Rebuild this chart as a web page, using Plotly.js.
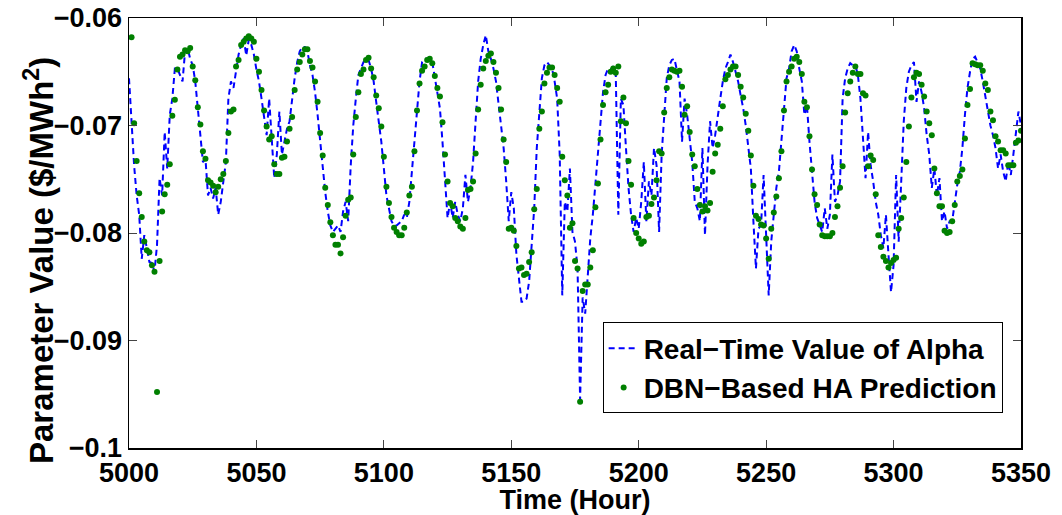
<!DOCTYPE html>
<html>
<head>
<meta charset="utf-8">
<script src="https://cdn.plot.ly/plotly-3.0.1.min.js"></script>
<style>
html,body{margin:0;padding:0;background:#fff;}
#chart{width:1062px;height:515px;}
</style>
</head>
<body>
<div id="chart"></div>
<script>
// Hourly real-time alpha values (x 1e-3 $/MWh^2), hours 5000..5350
const realStartHour = 5000;
const realAlpha = [
  -65.6,-70.0,-73.7,-76.5,-78.3,-82.4,-80.2,-81.4,-82.7,-82.8,
  -83.6,-81.1,-74.9,-76.5,-70.6,-74.0,-69.0,-67.5,-64.7,-64.7,
  -65.3,-65.9,-63.1,-62.8,-63.8,-64.4,-65.9,-68.4,-71.5,-73.4,
  -73.1,-76.5,-75.8,-76.8,-75.8,-78.3,-77.1,-75.2,-73.4,-67.5,
  -65.9,-66.5,-64.7,-63.4,-62.5,-61.9,-63.5,-62.0,-62.5,-63.4,
  -64.8,-65.9,-67.5,-69.0,-70.9,-67.5,-71.8,-74.9,-72.7,-68.7,
  -72.7,-71.5,-70.3,-69.6,-67.5,-65.6,-64.1,-63.1,-62.7,-62.7,
  -63.1,-64.4,-65.3,-66.9,-69.0,-71.5,-74.0,-76.2,-78.0,-79.3,
  -79.9,-79.6,-79.3,-79.9,-78.0,-77.1,-78.9,-73.7,-70.0,-67.5,
  -65.3,-64.7,-64.1,-63.9,-63.9,-64.7,-65.9,-67.8,-69.6,-71.5,
  -74.0,-76.5,-77.7,-78.9,-79.3,-79.3,-79.1,-78.9,-78.3,-78.6,
  -77.1,-74.3,-71.5,-68.4,-65.9,-64.1,-63.8,-63.8,-64.2,-64.1,
  -65.6,-66.9,-68.4,-71.5,-74.9,-78.6,-77.1,-78.6,-77.1,-78.3,
  -78.9,-77.7,-74.6,-77.1,-75.8,-73.4,-69.6,-65.9,-63.8,-62.5,
  -61.6,-63.1,-63.8,-64.7,-65.9,-67.8,-70.0,-72.1,-75.2,-78.9,
  -76.2,-77.7,-82.0,-84.5,-86.4,-86.4,-86.1,-84.5,-81.4,-77.7,
  -72.1,-69.0,-65.6,-64.4,-64.1,-64.4,-64.7,-65.9,-67.5,-72.7,
  -85.8,-77.1,-78.0,-74.0,-79.9,-80.8,-83.3,-95.5,-86.0,-87.5,
  -84.0,-80.5,-78.3,-75.5,-72.7,-70.0,-66.9,-65.3,-64.7,-64.8,
  -64.5,-65.3,-78.3,-67.5,-68.1,-72.1,-75.8,-78.3,-79.9,-78.6,
  -79.6,-77.1,-73.4,-78.9,-75.2,-76.5,-72.1,-73.7,-79.9,-72.7,
  -69.0,-65.6,-64.4,-63.9,-63.8,-65.0,-65.9,-71.5,-67.5,-69.0,
  -71.5,-73.4,-77.1,-77.7,-78.9,-72.1,-80.2,-73.7,-69.6,-72.1,
  -70.9,-69.0,-67.5,-65.9,-64.7,-64.1,-63.4,-64.1,-65.0,-65.9,
  -67.2,-68.4,-70.0,-71.8,-74.0,-78.9,-83.3,-79.6,-79.3,-74.6,
  -80.8,-85.8,-80.8,-78.3,-75.8,-74.3,-71.5,-68.1,-65.6,-64.7,
  -63.1,-62.5,-63.1,-64.7,-65.9,-69.0,-68.1,-71.5,-74.6,-77.1,
  -78.6,-79.3,-79.9,-77.7,-79.6,-78.3,-72.7,-77.1,-76.5,-75.2,
  -67.5,-65.6,-64.7,-64.2,-64.4,-64.4,-65.3,-67.5,-71.5,-74.9,
  -70.6,-73.7,-75.2,-77.1,-78.3,-80.2,-81.4,-78.3,-82.0,-85.5,
  -83.0,-74.6,-80.8,-75.2,-69.6,-66.5,-65.0,-64.4,-64.1,-67.8,
  -65.9,-66.9,-68.4,-70.9,-72.7,-75.8,-74.0,-76.5,-74.9,-78.9,
  -78.0,-79.6,-78.9,-78.9,-77.1,-75.5,-74.3,-72.1,-69.0,-66.5,
  -65.0,-63.8,-63.6,-64.1,-64.7,-65.9,-67.2,-68.7,-70.0,-70.9,
  -72.1,-74.0,-72.7,-74.3,-75.2,-73.4,-74.6,-72.7,-70.6,-68.7,
  -70.0
];

// Hourly DBN-based HA predictions (x 1e-3 $/MWh^2), hours 5001..5350
const predStartHour = 5001;
const dbnPrediction = [
  -61.8,-69.8,-73.3,-76.3,-78.5,-80.8,-81.6,-81.8,-83.0,-83.6,
  -94.8,-82.6,-78.0,-76.4,-75.5,-73.6,-69.1,-67.6,-64.8,-63.6,
  -63.4,-63.0,-63.1,-62.8,-64.5,-65.8,-68.3,-69.9,-72.4,-73.1,
  -75.1,-75.3,-75.6,-76.2,-75.7,-75.0,-74.5,-73.3,-70.7,-68.7,
  -68.5,-64.5,-63.9,-62.5,-62.2,-61.9,-61.7,-61.9,-62.2,-63.8,
  -65.0,-66.7,-68.6,-70.1,-71.3,-71.0,-73.6,-74.5,-74.5,-73.0,
  -72.9,-71.5,-70.3,-69.2,-66.7,-64.8,-64.1,-63.4,-62.9,-62.9,
  -64.0,-64.6,-65.9,-67.8,-70.7,-72.8,-75.8,-77.4,-79.0,-80.2,
  -81.1,-81.1,-81.9,-80.4,-78.4,-76.9,-76.7,-72.7,-69.2,-66.9,
  -65.2,-64.8,-63.9,-63.7,-64.7,-65.5,-67.2,-68.4,-70.1,-72.9,
  -75.7,-77.2,-78.5,-79.5,-79.9,-80.2,-80.2,-79.5,-78.1,-76.5,
  -75.7,-72.4,-68.6,-66.1,-64.9,-64.5,-63.9,-63.8,-64.2,-65.4,
  -66.5,-67.3,-69.7,-72.7,-75.2,-77.2,-77.5,-78.6,-78.9,-79.4,
  -79.6,-78.6,-76.0,-75.9,-75.2,-72.6,-68.5,-66.2,-64.7,-64.0,
  -63.5,-63.3,-64.1,-65.1,-66.5,-68.5,-71.3,-73.4,-79.6,-79.5,
  -79.8,-81.2,-83.3,-83.2,-83.9,-83.8,-82.7,-81.8,-77.8,-75.9,
  -70.3,-68.7,-66.1,-65.1,-64.6,-64.6,-65.3,-66.5,-67.8,-72.9,
  -75.1,-76.5,-79.5,-79.1,-82.6,-83.3,-95.7,-85.4,-84.8,-84.8,
  -83.2,-81.6,-77.6,-75.4,-71.3,-68.1,-66.9,-66.2,-65.0,-64.7,
  -65.1,-64.5,-69.6,-67.4,-69.8,-73.3,-75.5,-78.6,-80.0,-80.5,
  -81.0,-80.8,-78.5,-78.4,-77.3,-76.7,-75.1,-72.4,-72.6,-68.8,
  -66.5,-65.5,-64.8,-64.9,-65.0,-64.9,-66.4,-69.0,-68.2,-70.6,
  -72.7,-73.8,-75.9,-77.4,-78.0,-77.5,-77.9,-77.2,-74.3,-72.6,
  -71.8,-70.3,-68.2,-65.7,-65.3,-64.8,-64.5,-64.5,-65.3,-66.4,
  -67.4,-68.9,-70.5,-72.8,-75.6,-78.4,-78.7,-79.2,-79.3,-80.5,
  -82.4,-79.6,-78.1,-76.6,-74.9,-72.4,-68.6,-65.9,-65.0,-64.5,
  -63.8,-63.6,-64.1,-65.2,-67.8,-68.3,-71.0,-74.1,-76.4,-77.4,
  -79.2,-80.2,-80.3,-80.3,-80.3,-80.0,-78.5,-77.5,-75.8,-73.8,
  -68.8,-67.0,-65.9,-65.1,-64.5,-65.2,-65.2,-67.0,-67.2,-73.8,
  -72.8,-73.2,-76.4,-80.2,-81.3,-82.2,-82.6,-83.2,-82.8,-82.5,
  -82.3,-79.6,-78.6,-76.7,-73.4,-70.1,-67.4,-65.5,-65.1,-65.2,
  -66.2,-67.3,-68.7,-69.8,-70.9,-74.0,-76.3,-77.5,-77.5,-79.8,
  -80.0,-79.9,-78.9,-77.4,-75.2,-74.7,-74.1,-71.2,-68.1,-66.6,
  -64.2,-64.3,-64.4,-64.4,-64.9,-66.1,-66.7,-68.7,-69.5,-71.0,
  -71.5,-72.3,-72.3,-72.6,-73.7,-73.7,-73.7,-71.6,-71.4,-70.5
];

const seriesNames = ['Real\u2212Time Value of Alpha', 'DBN\u2212Based HA Prediction'];
const xTickVals = [5000, 5050, 5100, 5150, 5200, 5250, 5300, 5350];
const xTickText = ['5000', '5050', '5100', '5150', '5200', '5250', '5300', '5350'];
const yTickVals = [-0.1, -0.09, -0.08, -0.07, -0.06];
const yTickText = ['\u22120.1', '\u22120.09', '\u22120.08', '\u22120.07', '\u22120.06'];
const xTitle = 'Time (Hour)';
const yTitle = 'Parameter Value ($/MWh<sup>2</sup>)';

const realX = realAlpha.map((_, i) => realStartHour + i);
const realY = realAlpha.map(v => v / 1000);
const predX = dbnPrediction.map((_, i) => predStartHour + i);
const predY = dbnPrediction.map(v => v / 1000);

const FONT = 'Liberation Sans, Arial, Helvetica, sans-serif';
const TICK_SIZE = 27;

const traces = [
  {
    x: realX, y: realY, type: 'scatter', mode: 'lines', name: seriesNames[0],
    line: {color: '#0000ff', width: 2, dash: '6px,4px'}
  },
  {
    x: predX, y: predY, type: 'scatter', mode: 'markers', name: seriesNames[1],
    marker: {color: '#008000', size: 6}
  }
];

const layout = {
  width: 1062, height: 515,
  margin: {l: 129, r: 41, t: 18, b: 67, pad: 0},
  paper_bgcolor: '#ffffff', plot_bgcolor: '#ffffff',
  font: {family: FONT, size: 27, color: '#000', weight: 'bold'},
  showlegend: true,
  xaxis: {
    range: [5000, 5350], tickmode: 'array', tickvals: xTickVals, ticktext: xTickText,
    ticks: 'inside', ticklen: 8, tickwidth: 1, tickcolor: '#444',
    showline: true, linecolor: '#000', linewidth: 1.5, mirror: 'ticks',
    showgrid: false, zeroline: false,
    tickfont: {family: FONT, size: TICK_SIZE, color: '#000', weight: 'bold'},
    title: {text: xTitle, font: {family: FONT, size: 27, color: '#000', weight: 'bold'}, standoff: 0}
  },
  yaxis: {
    range: [-0.1, -0.06], tickmode: 'array', tickvals: yTickVals, ticktext: yTickText,
    ticks: 'inside', ticklen: 8, tickwidth: 1, tickcolor: '#444',
    showline: true, linecolor: '#000', linewidth: 1.5, mirror: 'ticks',
    showgrid: false, zeroline: false,
    tickfont: {family: FONT, size: TICK_SIZE, color: '#000', weight: 'bold'}
  },
  annotations: [{
    text: yTitle, xref: 'paper', yref: 'paper', x: 0, y: 0.5,
    xanchor: 'center', yanchor: 'middle', xshift: -90, yshift: -28,
    textangle: -90, showarrow: false,
    font: {family: FONT, size: 33, color: '#000', weight: 'bold'}
  }],
  legend: {
    x: 0.531, y: 0.292, xanchor: 'left', yanchor: 'top',
    bgcolor: '#ffffff', bordercolor: '#000', borderwidth: 1,
    font: {family: FONT, size: 28, color: '#000', weight: 'bold'},
    itemwidth: 30, tracegroupgap: 0
  }
};

Plotly.newPlot('chart', traces, layout, {staticPlot: true, displayModeBar: false});
</script>
</body>
</html>
